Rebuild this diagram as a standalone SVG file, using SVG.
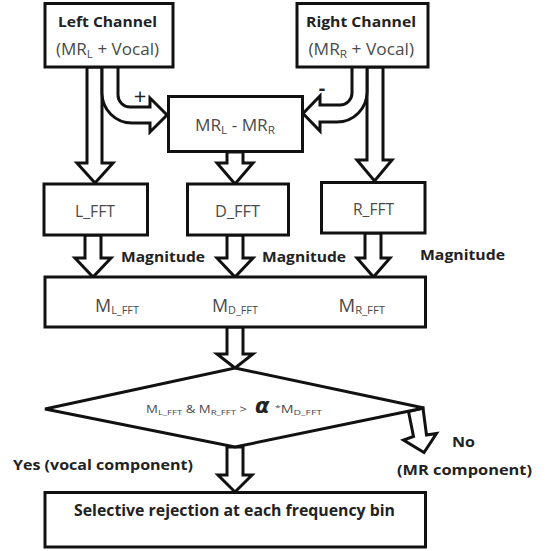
<svg xmlns="http://www.w3.org/2000/svg" width="547" height="551" viewBox="0 0 547 551">
<style>
.box{fill:#fff;stroke:#111;stroke-width:3}
.arr{fill:#fff;stroke:#111;stroke-width:3;stroke-linejoin:miter}
.b{font-family:"Open Sans","Noto Sans",sans-serif;font-weight:bold;fill:#222}
.r{font-family:"Open Sans","Noto Sans",sans-serif;fill:#4a4a4a}
</style>
<rect width="547" height="551" fill="#fff"/>
<g id="connectors">
<polygon class="arr" points="87,67 87,163 77,163 95,183 113,163 102,163 102,67"/>
<path class="arr" d="M102,67 V93 A30,30 0 0 0 132,123 H150 V132 L167,115 L150,98 V107 H130 A12,12 0 0 1 118,95 V67"/>
<polygon class="arr" points="367,67 367,160 357,160 374.5,181 392,160 383,160 383,67"/>
<path class="arr" d="M367,67 V92 A30,30 0 0 1 337,122 H320 V131 L303,113.5 L320,96 V105 H340 A12,12 0 0 0 352,93 V67"/>
<polygon class="arr" points="227,152 227,163 217,163 235,184 253,163 243,163 243,152"/>
<polygon class="arr" points="85,235 85,258 75,258 93,277 111,258 101,258 101,235"/>
<polygon class="arr" points="227,235 227,258 217,258 235,277 253,258 243,258 243,235"/>
<polygon class="arr" points="365,233 365,258 357,258 373.5,277 390,258 381,258 381,233"/>
<polygon class="arr" points="227,327 227,354 217,354 235,368 253,354 243,354 243,327"/>
<polygon class="arr" points="227,447 227,475 218,475 235,492 252,475 243,475 243,447"/>
<polygon class="arr" points="408.5,411.5 413.5,436.5 403.5,440 424,452.5 436.5,433.5 426.5,435 423,408"/>
<text x="140" y="104" font-family="'Open Sans',sans-serif" font-size="22" text-anchor="middle" fill="#222">+</text>
<text x="322" y="95" font-family="'Open Sans',sans-serif" font-weight="bold" font-size="20" text-anchor="middle" fill="#222">-</text>
<text class="b" x="121" y="262" font-size="15" textLength="84" lengthAdjust="spacingAndGlyphs">Magnitude</text>
<text class="b" x="262" y="262" font-size="15" textLength="84" lengthAdjust="spacingAndGlyphs">Magnitude</text>
<text class="b" x="420" y="260" font-size="15" textLength="85" lengthAdjust="spacingAndGlyphs">Magnitude</text>
<text class="b" x="13" y="470" font-size="15" textLength="180" lengthAdjust="spacingAndGlyphs">Yes (vocal component)</text>
<text class="b" x="452" y="447" font-size="15" textLength="23" lengthAdjust="spacingAndGlyphs">No</text>
<text class="b" x="397" y="475" font-size="15" textLength="135" lengthAdjust="spacingAndGlyphs">(MR component)</text>
</g>
<g id="left-channel">
<rect class="box" x="45" y="3.5" width="128" height="63.5"/>
<text class="b" x="58" y="27" font-size="15" textLength="99" lengthAdjust="spacingAndGlyphs">Left Channel</text>
<text class="r" x="56" y="55" font-size="16" textLength="103" lengthAdjust="spacingAndGlyphs">(MR<tspan font-size="11" dy="3">L</tspan><tspan dy="-3"> + Vocal)</tspan></text>
</g>
<g id="right-channel">
<rect class="box" x="297" y="3.5" width="131" height="63.5"/>
<text class="b" x="306" y="27" font-size="15" textLength="110" lengthAdjust="spacingAndGlyphs">Right Channel</text>
<text class="r" x="308.5" y="55" font-size="16" textLength="105.5" lengthAdjust="spacingAndGlyphs">(MR<tspan font-size="11" dy="3">R</tspan><tspan dy="-3"> + Vocal)</tspan></text>
</g>
<g id="mr-diff">
<rect class="box" x="168.5" y="96.5" width="134" height="55"/>
<text class="r" x="195" y="131" font-size="16" textLength="80" lengthAdjust="spacingAndGlyphs">MR<tspan font-size="11" dy="3">L</tspan><tspan dy="-3"> - MR</tspan><tspan font-size="11" dy="3">R</tspan></text>
</g>
<g id="l-fft">
<rect class="box" x="44" y="184" width="103.5" height="51"/>
<text class="r" x="75" y="217" font-size="16" textLength="40" lengthAdjust="spacingAndGlyphs">L_FFT</text>
</g>
<g id="d-fft">
<rect class="box" x="187.5" y="184" width="101" height="51"/>
<text class="r" x="215" y="217" font-size="16" textLength="45" lengthAdjust="spacingAndGlyphs">D_FFT</text>
</g>
<g id="r-fft">
<rect class="box" x="321.5" y="182.5" width="103.5" height="50.5"/>
<text class="r" x="353" y="215" font-size="16" textLength="41" lengthAdjust="spacingAndGlyphs">R_FFT</text>
</g>
<g id="magnitudes">
<rect class="box" x="45" y="277" width="380.5" height="50"/>
<text class="r" x="95" y="312" font-size="18" textLength="44" lengthAdjust="spacingAndGlyphs">M<tspan font-size="11" dy="2">L_FFT</tspan></text>
<text class="r" x="212" y="312" font-size="18" textLength="46" lengthAdjust="spacingAndGlyphs">M<tspan font-size="11" dy="2">D_FFT</tspan></text>
<text class="r" x="338.5" y="312" font-size="18" textLength="46.5" lengthAdjust="spacingAndGlyphs">M<tspan font-size="11" dy="2">R_FFT</tspan></text>
</g>
<g id="decision">
<polygon class="box" points="235,368 424,408 235,447 45,409"/>
<text class="r" x="146" y="413" font-size="11" textLength="101" lengthAdjust="spacingAndGlyphs">M<tspan font-size="8" dy="2">L_FFT</tspan><tspan dy="-2"> &amp; M</tspan><tspan font-size="8" dy="2">R_FFT</tspan><tspan dy="-2"> &gt;</tspan></text>
<text x="255" y="413" font-family="'DejaVu Sans',sans-serif" font-weight="bold" font-style="italic" font-size="21" fill="#222">α</text>
<text class="r" x="275" y="413" font-size="11" textLength="47" lengthAdjust="spacingAndGlyphs"><tspan font-size="8" dy="-3">*</tspan><tspan dy="3">M</tspan><tspan font-size="8" dy="2">D_FFT</tspan></text>
</g>
<g id="rejection">
<rect class="box" x="45" y="492.5" width="380.5" height="54.5"/>
<text class="b" x="74" y="516" font-size="16" textLength="321" lengthAdjust="spacingAndGlyphs">Selective rejection at each frequency bin</text>
</g>
</svg>
